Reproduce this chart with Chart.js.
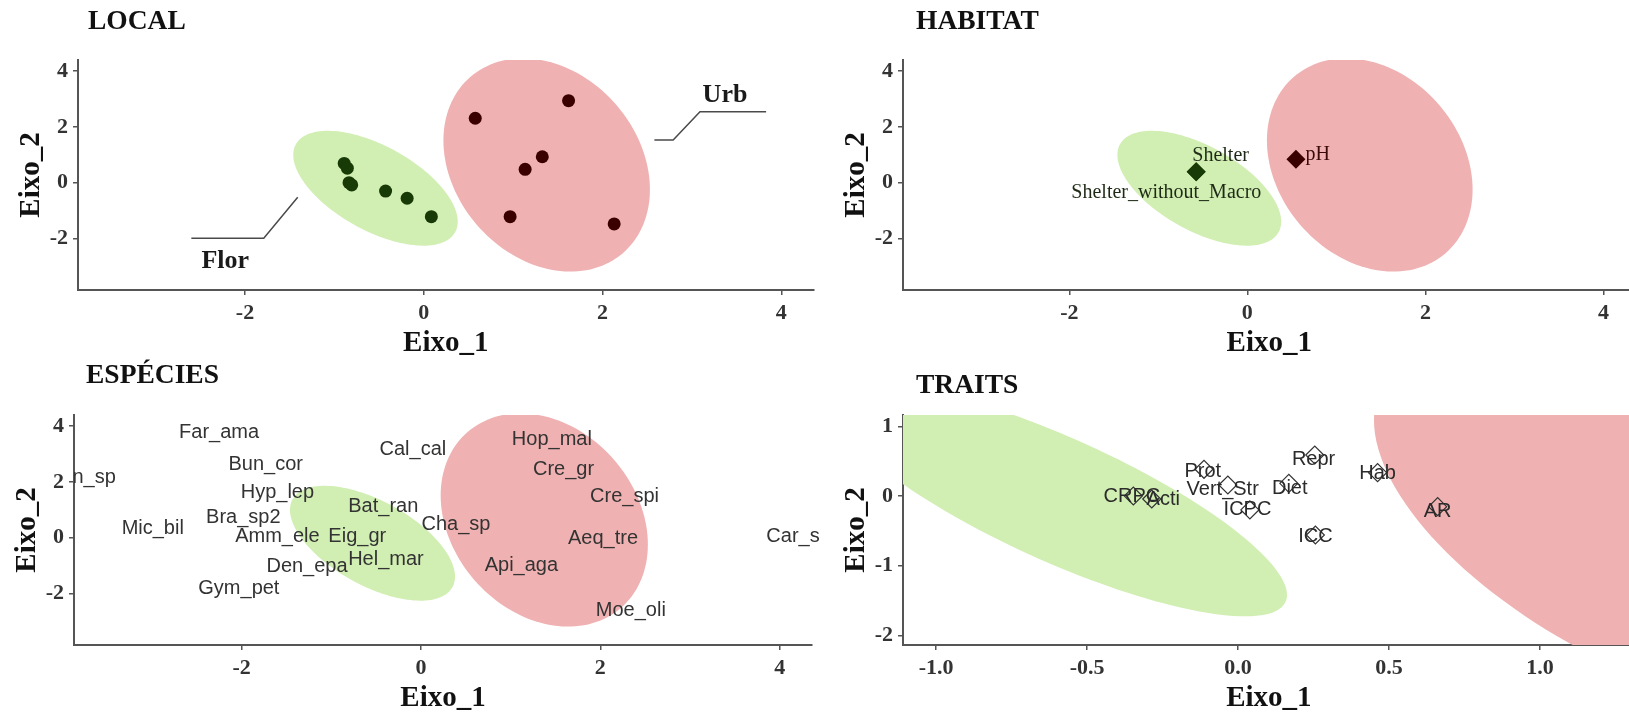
<!DOCTYPE html>
<html>
<head>
<meta charset="utf-8">
<script src="https://cdn.jsdelivr.net/npm/chart.js@4.4.1/dist/chart.umd.min.js"></script>
<style>
  html, body { margin: 0; padding: 0; background: #fff; width: 1629px; height: 716px; overflow: hidden; }
  .panel { position: absolute; overflow: hidden; }
  .panel canvas { position: absolute; top: 0; }
</style>
</head>
<body>
<div class="panel" style="left:0;top:0;width:820px;height:358px"><canvas id="cLocal" width="820" height="358" style="left:0"></canvas></div>
<div class="panel" style="left:820px;top:0;width:809px;height:358px"><canvas id="cHabitat" width="820" height="358" style="left:4.6px"></canvas></div>
<div class="panel" style="left:0;top:355px;width:820px;height:361px"><canvas id="cEspecies" width="824" height="358" style="left:-4px"></canvas></div>
<div class="panel" style="left:820px;top:355px;width:809px;height:361px"><canvas id="cTraits" width="820" height="358" style="left:4.6px"></canvas></div>

<script>
const SERIF = '"Liberation Serif", "Times New Roman", serif';
const SANS = '"Liberation Sans", Arial, sans-serif';
const GREEN_PT = '#173a06';
const RED_PT = '#3a0000';
const GREEN_FILL = '#d1eeb3';
const RED_FILL = '#efb1b1';

// ---- LOCAL: site scores
const florX = [-0.89, -0.855, -0.836, -0.806, -0.427, -0.186, 0.085];
const florY = [0.69, 0.52, 0.0, -0.08, -0.30, -0.56, -1.22];
const urbX = [0.576, 1.62, 1.326, 1.134, 0.966, 2.13];
const urbY = [2.31, 2.94, 0.93, 0.48, -1.22, -1.48];

// group ellipses (centre, spread, correlation) : Flor, Urb
const siteEllCx = [-0.54, 1.375];
const siteEllCy = [-0.2, 0.635];
const siteEllSx = [0.92, 1.155];
const siteEllSy = [2.06, 3.825];
const siteEllR = [-0.58, -0.23];

// group label leader lines
const urbLineX = [2.58, 2.79, 3.09, 3.83];
const urbLineY = [1.53, 1.53, 2.54, 2.54];
const urbLabelXY = [3.37, 3.14];
const florLineX = [-2.6, -1.79, -1.41];
const florLineY = [-1.99, -1.99, -0.52];
const florLabelXY = [-2.22, -2.83];

// ---- HABITAT
const habitatNames = ['Shelter', 'Shelter_without_Macro', 'pH'];
const habitatX = [-0.575, -0.575, 0.546];
const habitatY = [0.39, 0.39, 0.84];
const habitatLabelX = [-0.30, -0.91, 0.79];
const habitatLabelY = [0.96, -0.36, 0.99];
const habitatGroup = [0, 0, 1];

// ---- ESPÉCIES
const speciesNames = ['Ann_sp', 'Far_ama', 'Bun_cor', 'Hyp_lep', 'Bra_sp2', 'Mic_bil', 'Amm_ele',
  'Eig_gr', 'Den_epa', 'Gym_pet', 'Cal_cal', 'Bat_ran', 'Cha_sp', 'Hel_mar', 'Hop_mal', 'Cre_gr',
  'Cre_spi', 'Aeq_tre', 'Api_aga', 'Moe_oli', 'Car_sp'];
const speciesX = [-3.78, -2.25, -1.73, -1.60, -1.98, -2.99, -1.60,
  -0.71, -1.27, -2.03, -0.09, -0.42, 0.39, -0.39, 1.46, 1.59,
  2.27, 2.03, 1.12, 2.34, 4.21];
const speciesY = [2.17, 3.78, 2.64, 1.62, 0.74, 0.32, 0.05,
  0.05, -1.05, -1.83, 3.17, 1.13, 0.48, -0.79, 3.51, 2.43,
  1.46, -0.04, -0.99, -2.60, 0.06];

// ---- TRAITS
const traitNames = ['CRPC', 'Acti', 'Prot', 'Vert_Str', 'ICPC', 'Diet', 'Repr', 'Hab', 'ICC', 'AR'];
const traitX = [-0.347, -0.286, -0.113, -0.034, 0.039, 0.168, 0.254, 0.462, 0.256, 0.661];
const traitY = [0.0, -0.043, 0.383, 0.158, -0.2, 0.182, 0.588, 0.335, -0.56, -0.153];
const traitLabelX = [-0.352, -0.248, -0.117, -0.051, 0.031, 0.171, 0.25, 0.462, 0.256, 0.661];
const traitLabelY = [-0.01, -0.057, 0.349, 0.10, -0.2, 0.11, 0.526, 0.326, -0.584, -0.225];
const traitEllCx = [-0.593, 1.37];
const traitEllCy = [-0.057, -0.45];
const traitEllSx = [0.755, 0.92];
const traitEllSy = [1.67, 2.7];
const traitEllR = [-0.815, -0.57];

// ---- axes
const scoreTicks = [-2, 0, 2, 4];
const traitXTicks = [-1, -0.5, 0, 0.5, 1];
const traitYTicks = [-2, -1, 0, 1];

function pts(xs, ys) { return xs.map((x, i) => ({ x: x, y: ys[i] })); }

function ellipses(cx, cy, sx, sy, r) {
  const cols = [GREEN_FILL, RED_FILL];
  return cx.map((c, i) => ({ cx: c, cy: cy[i], sx: sx[i], sy: sy[i], r: r[i], color: cols[i] }));
}

const overlay = {
  id: 'overlay',
  beforeDatasetsDraw(chart, args, opts) {
    const { ctx, chartArea: a, scales: { x, y } } = chart;
    ctx.save();
    ctx.beginPath(); ctx.rect(a.left, a.top, a.right - a.left, a.bottom - a.top); ctx.clip();
    (opts.ellipses || []).forEach(e => {
      const s = Math.sqrt(1 - e.r * e.r);
      ctx.beginPath();
      for (let i = 0; i <= 144; i++) {
        const t = i / 144 * Math.PI * 2;
        const px = x.getPixelForValue(e.cx + e.sx * Math.cos(t));
        const py = y.getPixelForValue(e.cy + e.sy * (e.r * Math.cos(t) + s * Math.sin(t)));
        if (i === 0) ctx.moveTo(px, py); else ctx.lineTo(px, py);
      }
      ctx.closePath();
      ctx.fillStyle = e.color;
      ctx.fill();
    });
    ctx.restore();
  },
  afterDatasetsDraw(chart, args, opts) {
    const { ctx, chartArea: a, scales: { x, y } } = chart;
    ctx.save();
    // labels may run a little past the right edge, as in the original
    ctx.beginPath(); ctx.rect(a.left, a.top, a.right - a.left + 12, a.bottom - a.top); ctx.clip();
    (opts.lines || []).forEach(l => {
      ctx.beginPath();
      l.xs.forEach((v, i) => {
        const px = x.getPixelForValue(v), py = y.getPixelForValue(l.ys[i]);
        if (i === 0) ctx.moveTo(px, py); else ctx.lineTo(px, py);
      });
      ctx.strokeStyle = '#4a4a4a';
      ctx.lineWidth = 1.5;
      ctx.stroke();
    });
    ctx.textAlign = 'center';
    ctx.textBaseline = 'middle';
    (opts.texts || []).forEach(t => {
      ctx.font = t.font;
      ctx.fillStyle = t.color;
      ctx.fillText(t.text, x.getPixelForValue(t.x), y.getPixelForValue(t.y));
    });
    ctx.restore();
    if (opts.title) {
      ctx.save();
      ctx.font = 'bold 27.5px ' + SERIF;
      ctx.fillStyle = '#111';
      ctx.textAlign = 'left';
      ctx.textBaseline = 'middle';
      ctx.fillText(opts.title.text, a.left + opts.title.dx, opts.title.y);
      ctx.restore();
    }
  }
};

function axis(min, max, ticks, fmt, title, isX) {
  return {
    type: 'linear',
    min: min,
    max: max,
    afterBuildTicks: s => { s.ticks = ticks.map(v => ({ value: v })); },
    afterFit: s => { if (isX) s.height = 68; else s.width = 78; },
    grid: { drawOnChartArea: false, drawTicks: true, tickLength: 5, color: '#555', lineWidth: 1.5 },
    border: { display: true, color: '#555', width: 2 },
    ticks: {
      padding: 5,
      color: '#333',
      font: { family: SERIF, size: 22, weight: 'bold' },
      callback: fmt,
      maxRotation: 0
    },
    title: {
      display: true,
      text: title,
      color: '#111',
      font: { family: SERIF, size: 29, weight: 'bold', lineHeight: 1 },
      padding: isX ? { top: 0, bottom: 0 } : { top: 17.5, bottom: 0 }
    }
  };
}

function makeChart(id, datasets, xr, yr, xTicks, yTicks, xFmt, plug, padRight) {
  return new Chart(document.getElementById(id), {
    type: 'scatter',
    data: { datasets: datasets },
    options: {
      responsive: false,
      animation: false,
      events: [],
      layout: { padding: { left: 0, right: padRight || 4, top: 60, bottom: 0 } },
      scales: {
        x: axis(xr[0], xr[1], xTicks, xFmt, 'Eixo_1', true),
        y: axis(yr[0], yr[1], yTicks, v => String(v), 'Eixo_2', false)
      },
      plugins: { legend: { display: false }, tooltip: { enabled: false }, overlay: plug }
    },
    plugins: [overlay]
  });
}

const scoreXRange = [-3.868, 4.36];
const scoreYRange = [-3.85, 4.40];
const siteEll = ellipses(siteEllCx, siteEllCy, siteEllSx, siteEllSy, siteEllR);
const plain = v => String(v);

// LOCAL
makeChart('cLocal', [
  { label: 'Flor', data: pts(florX, florY), pointRadius: 6.5, backgroundColor: GREEN_PT, borderWidth: 0 },
  { label: 'Urb', data: pts(urbX, urbY), pointRadius: 6.5, backgroundColor: RED_PT, borderWidth: 0 }
], scoreXRange, scoreYRange, scoreTicks, scoreTicks, plain, {
  ellipses: siteEll,
  lines: [{ xs: urbLineX, ys: urbLineY }, { xs: florLineX, ys: florLineY }],
  texts: [
    { text: 'Urb', x: urbLabelXY[0], y: urbLabelXY[1], font: 'bold 26px ' + SERIF, color: '#1a1a1a' },
    { text: 'Flor', x: florLabelXY[0], y: florLabelXY[1], font: 'bold 26px ' + SERIF, color: '#1a1a1a' }
  ],
  title: { text: 'LOCAL', dx: 10, y: 21.7 }
});

// HABITAT
const habCols = [GREEN_PT, RED_PT];
makeChart('cHabitat', [
  { label: 'habitat', data: pts(habitatX, habitatY), pointStyle: 'rectRot', pointRadius: 9.5,
    backgroundColor: habitatGroup.map(g => habCols[g]), borderWidth: 0 }
], scoreXRange, scoreYRange, scoreTicks, scoreTicks, plain, {
  ellipses: siteEll,
  texts: habitatNames.map((n, i) => ({ text: n, x: habitatLabelX[i], y: habitatLabelY[i],
    font: '20px ' + SERIF, color: habitatGroup[i] ? '#3a0a0a' : '#1f2a16' })),
  title: { text: 'HABITAT', dx: 13, y: 21.7 }
});

// ESPÉCIES
makeChart('cEspecies', [
  { label: 'species', data: pts(speciesX, speciesY), pointRadius: 0 }
], scoreXRange, scoreYRange, scoreTicks, scoreTicks, plain, {
  ellipses: siteEll,
  texts: speciesNames.map((n, i) => ({ text: n, x: speciesX[i], y: speciesY[i],
    font: '20px ' + SANS, color: '#333' })),
  title: { text: 'ESPÉCIES', dx: 12, y: 21 }
}, 8);

// TRAITS
makeChart('cTraits', [
  { label: 'traits', data: pts(traitX, traitY), pointStyle: 'rectRot', pointRadius: 9,
    backgroundColor: 'rgba(0,0,0,0)', borderColor: '#333', borderWidth: 1.2 }
], [-1.110, 1.314], [-2.138, 1.162], traitXTicks, traitYTicks, v => v.toFixed(1), {
  ellipses: ellipses(traitEllCx, traitEllCy, traitEllSx, traitEllSy, traitEllR),
  texts: traitNames.map((n, i) => ({ text: n, x: traitLabelX[i], y: traitLabelY[i],
    font: '20px ' + SANS, color: '#2b2b2b' })),
  title: { text: 'TRAITS', dx: 13, y: 30.6 }
});
</script>
</body>
</html>
